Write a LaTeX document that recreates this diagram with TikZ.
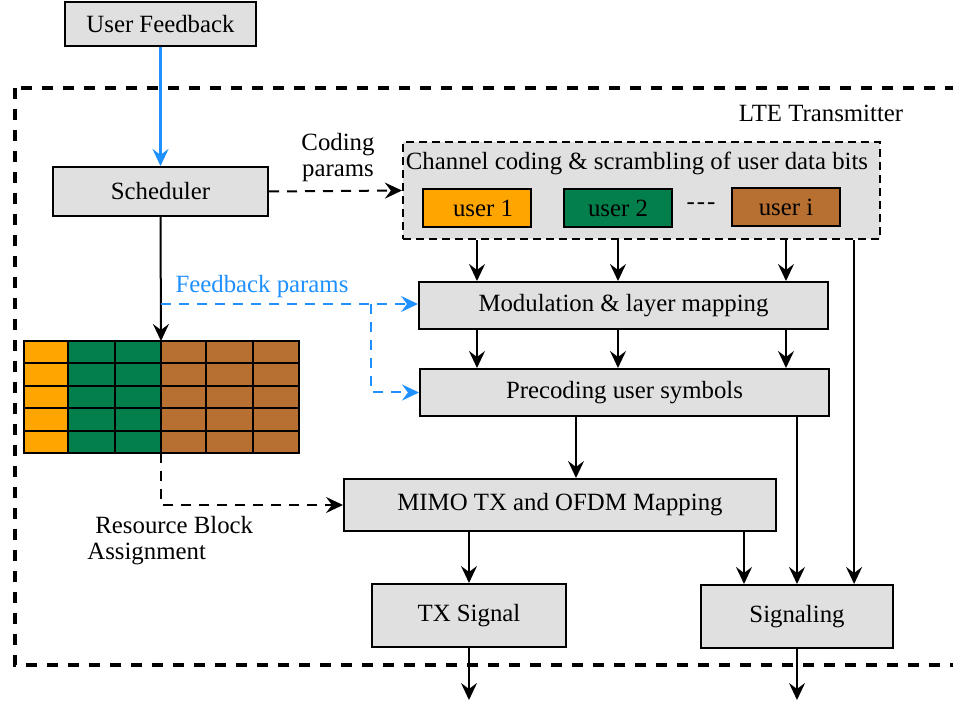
\documentclass[tikz,border=0pt]{standalone}
\usepackage{fontspec}
\setmainfont{LiberationSerif}[Extension=.ttf,UprightFont=*-Regular,BoldFont=*-Bold,ItalicFont=*-Italic,BoldItalicFont=*-BoldItalic]
\usetikzlibrary{arrows.meta,calc}

% Colores de las cajas y de los usuarios
\definecolor{cajagris}{RGB}{224,224,224}
\definecolor{azulfb}{RGB}{30,144,255}
\definecolor{naranja}{RGB}{255,165,0}
\definecolor{verde}{RGB}{2,127,75}
\definecolor{cobre}{RGB}{184,112,50}

\begin{document}
\begin{tikzpicture}[x=0.5pt,y=-0.5pt,
        font=\fontsize{12.4}{13}\selectfont,
        >={Stealth[length=8.5pt,width=8pt,inset=3pt]},
        bloque/.style={draw,line width=1pt,fill=cajagris,inner sep=0pt},
        usuario/.style={draw,line width=1pt,inner sep=0pt,minimum width=54pt,minimum height=19pt},
        flecha/.style={->,line width=1pt},
        trazos/.style={->,line width=1pt,dash pattern=on 5pt off 4pt},
        azul/.style={->,azulfb,line width=1pt,dash pattern=on 5pt off 4pt},
        etiqueta/.style={inner sep=0pt,align=left}]

        % Área de dibujo (se recorta el borde derecho del recuadro)
        \path[use as bounding box,clip] (0,0) rectangle (953,704);

        % Recuadro discontinuo del transmisor
        \draw[line width=1.8pt,dash pattern=on 5.5pt off 5pt] (15,88) rectangle (990,665);
        \node (lte) at (821,113) {LTE Transmitter};

        % Bloques principales
        \node[bloque,minimum width=95.5pt,minimum height=22pt] (fb) at (160.5,24) {User Feedback};
        \node[bloque,minimum width=107.5pt,minimum height=24.5pt] (sched) at (160.5,191.5) {Scheduler};

        % Codificación de canal con los bloques de usuario
        \node[bloque,line width=1.1pt,dash pattern=on 4pt off 2.5pt,minimum width=238.5pt,minimum height=48.5pt] (chan) at (641.5,190.5) {};
        \node (ctit) at (637,163) {Channel coding \& scrambling of user data bits};
        \node[usuario,fill=naranja] (u1) at (477,208) {\hspace{6pt}user 1};
        \node[usuario,fill=verde] (u2) at (618,208) {user 2};
        \node (dots) at (701,206) {-\kern1pt-\kern1pt-};
        \node[usuario,fill=cobre] (ui) at (786,207) {user i};

        \node[bloque,minimum width=204.5pt,minimum height=23.5pt] (mod) at (623.5,305.5) {Modulation \& layer mapping};
        \node[bloque,minimum width=204.5pt,minimum height=23.5pt] (prec) at (624.5,392.5) {Precoding user symbols};
        \node[bloque,minimum width=216pt,minimum height=26pt] (mimo) at (560,505) {MIMO TX and OFDM Mapping};
        \node[bloque,minimum width=97pt,minimum height=31.5pt] (tx) at (469,615.5) {TX Signal};
        \node[bloque,minimum width=96pt,minimum height=31.5pt] (sig) at (797,616.5) {Signaling};

        % Rejilla de asignación de bloques de recursos (5 filas)
        \foreach \xa/\xb/\col in {24/68/naranja,68/115/verde,115/161/verde,161/206/cobre,206/253/cobre,253/299/cobre}
            \foreach \fila in {0,...,4}
                \filldraw[fill=\col,line width=1pt] (\xa,{341+22.4*\fila}) rectangle (\xb,{341+22.4*(\fila+1)});
        \coordinate (rbtop) at (161,341);
        \coordinate (rbbot) at (161,453);

        % Etiquetas de texto
        \node[etiqueta,align=center] (cod) at (338,158) {Coding\\params};
        \node[etiqueta,text=azulfb] (fbp) at (262,287) {Feedback params};
        \node[etiqueta,anchor=west] (rba) at (87,541) {\hspace{4pt}Resource Block\\Assignment};

        % Realimentación del usuario al planificador
        \draw[->,azulfb,line width=1.2pt] (fb.south) -- (sched.north);
        \draw[trazos] (sched.east) -- (chan.west);
        \draw[flecha] (sched.south) -- (rbtop);

        % Parámetros de realimentación (azul discontinuo)
        \coordinate (fbk) at (161,304);
        \coordinate (rama) at (371,304);
        \draw[azul] (fbk) -- (fbk -| mod.west);
        \draw[azul] (rama) |- (prec.west);

        % Flujo de datos por usuario
        \foreach \u in {u1,u2,ui} {
            \draw[flecha] (\u.south |- chan.south) -- (\u.south |- mod.north);
            \draw[flecha] (\u.south |- mod.south) -- (\u.south |- prec.north);
        }

        % Puntos de salida hacia MIMO y señalización
        \coordinate (pm) at ($(prec.south west)+(157,0)$);
        \coordinate (cs) at ($(chan.south east)+(-27,0)$);
        \coordinate (ms) at ($(mimo.south east)+(-33,0)$);

        \draw[flecha] (pm) -- (pm |- mimo.north);
        \draw[flecha] (prec.south -| sig.north) -- (sig.north);
        \draw[flecha] (cs) -- (cs |- sig.north);
        \draw[flecha] (ms) -- (ms |- sig.north);
        \draw[flecha] (tx.north |- mimo.south) -- (tx.north);

        % Asignación de bloques de recursos hacia MIMO
        \draw[trazos] (rbbot) |- (mimo.west);

        % Salidas del transmisor
        \coordinate (txout) at (469,700);
        \coordinate (sigout) at (797,700);
        \draw[flecha] (tx.south) -- (txout);
        \draw[flecha] (sig.south) -- (sigout);

\end{tikzpicture}
\end{document}
